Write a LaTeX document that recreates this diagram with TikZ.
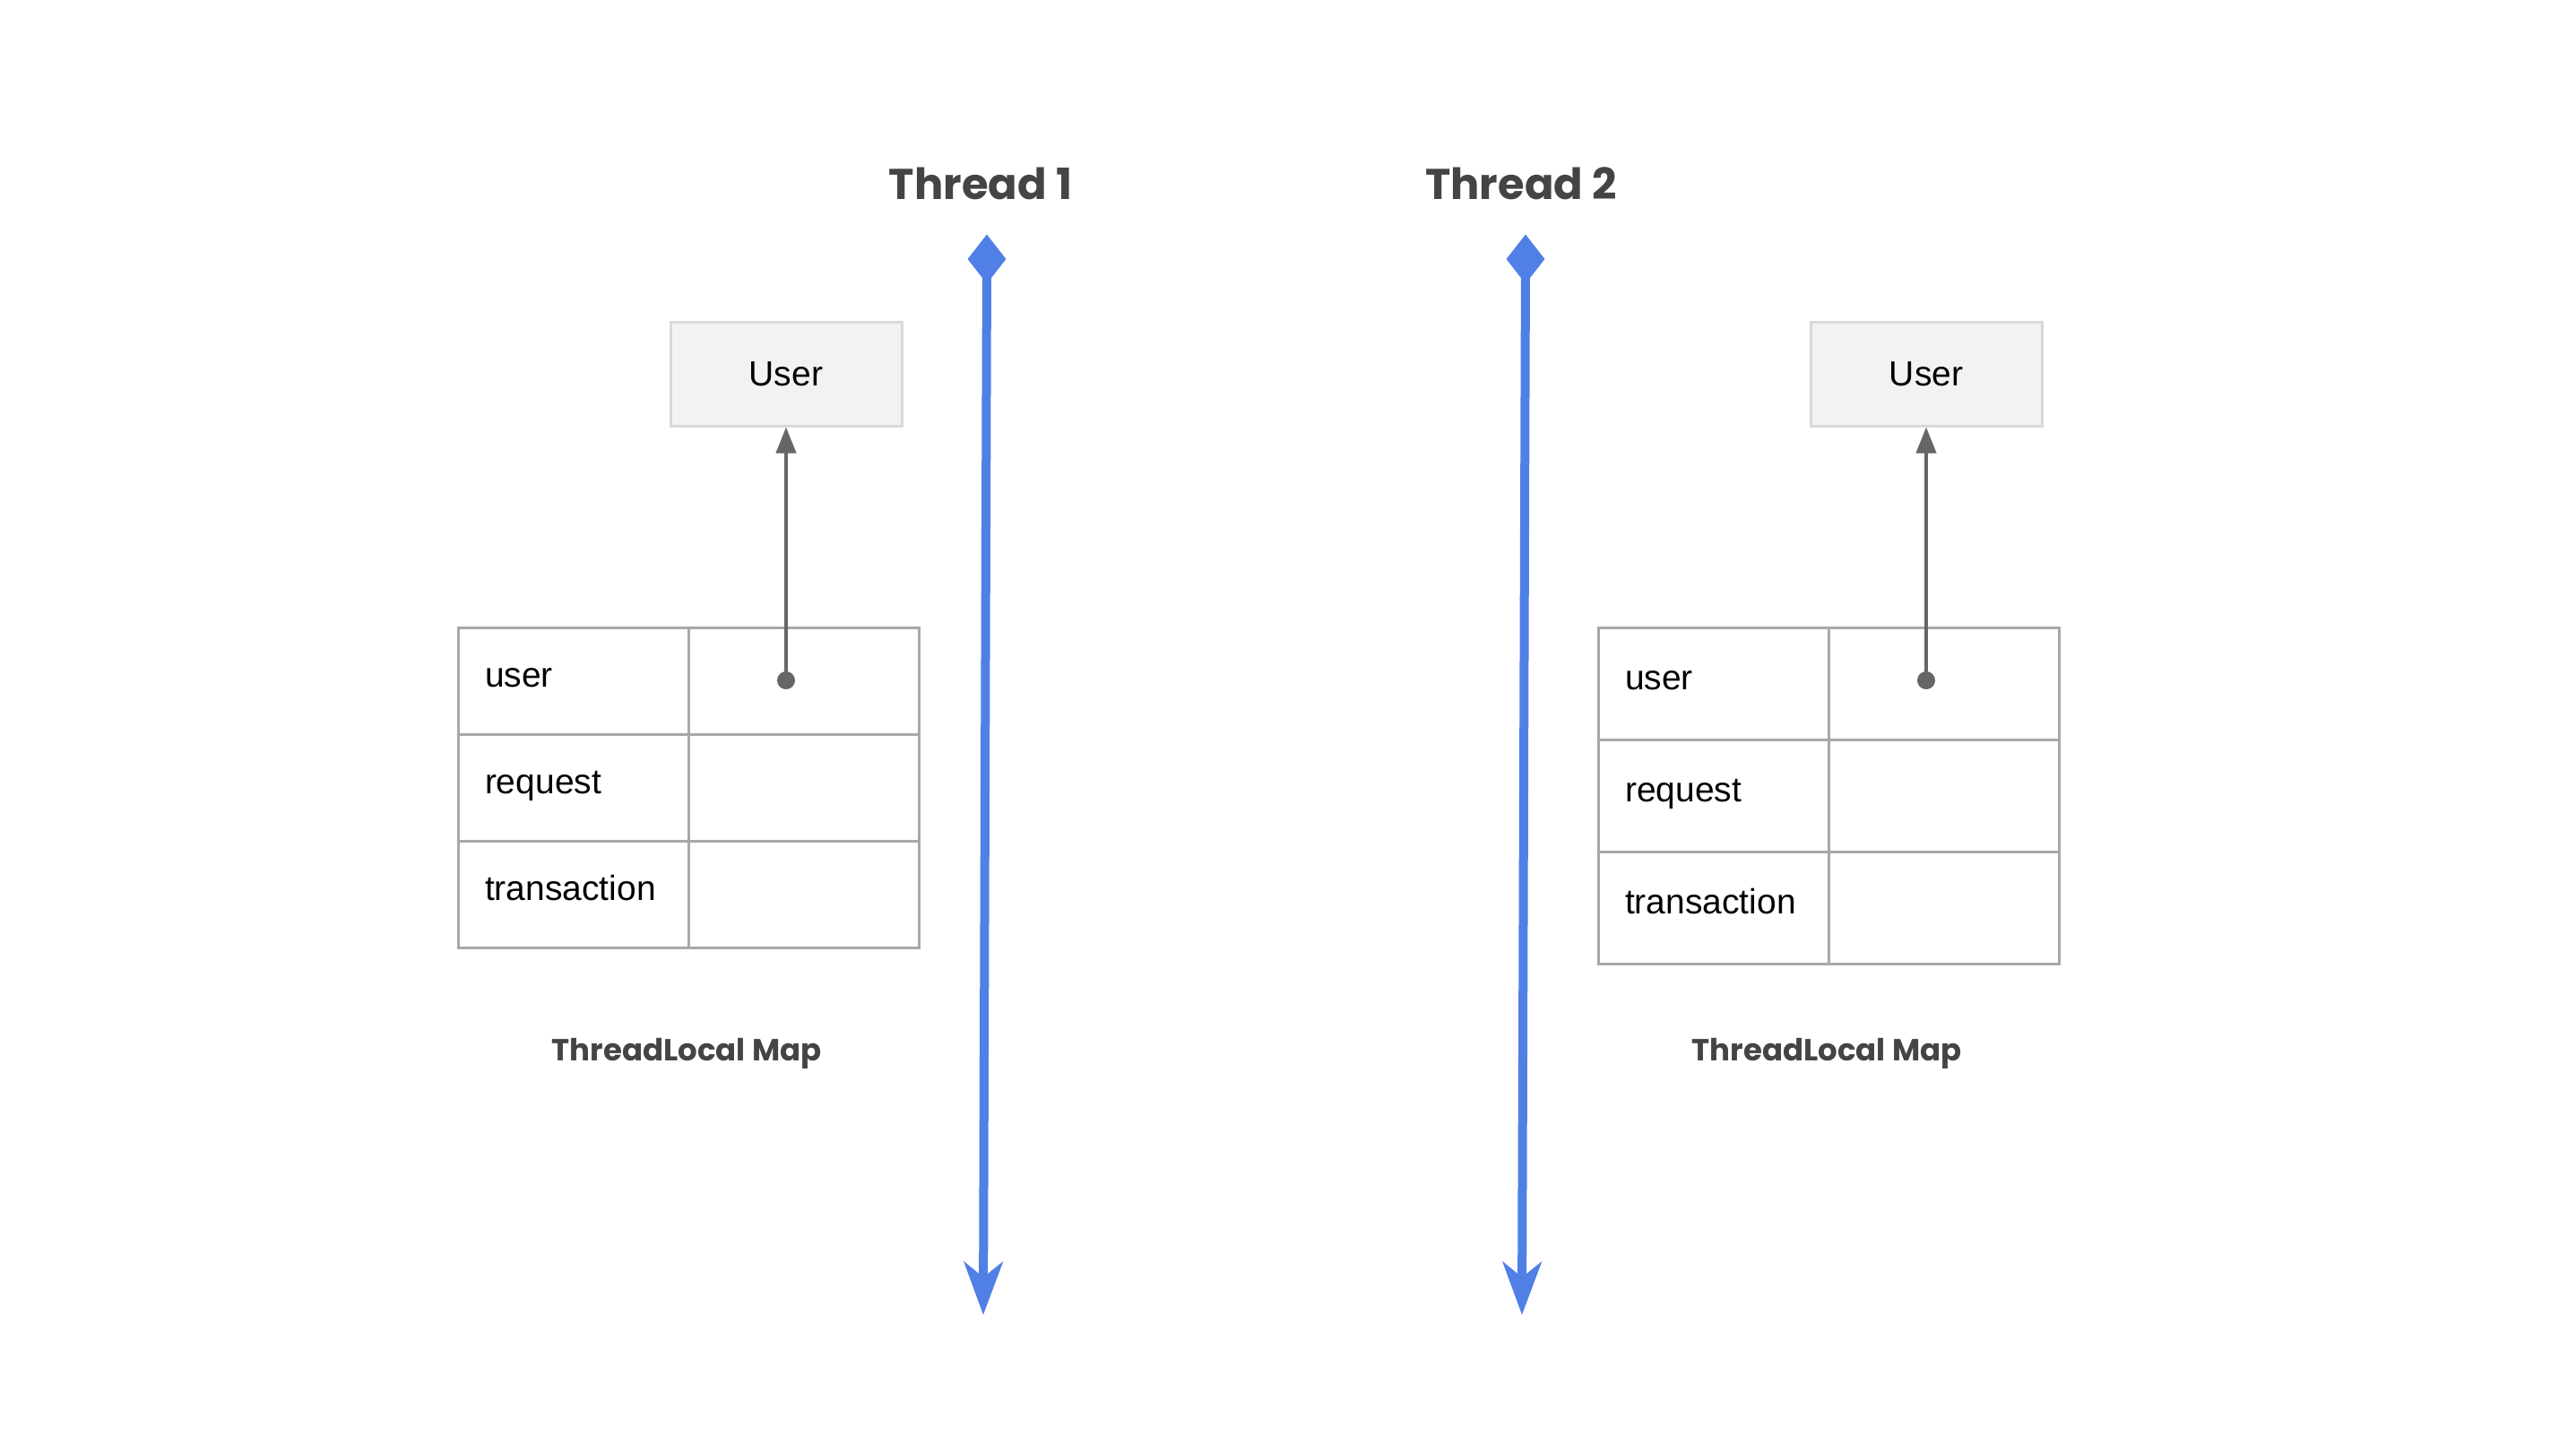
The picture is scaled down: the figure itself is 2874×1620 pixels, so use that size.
\documentclass[tikz,border=0pt]{standalone}
\usepackage{fontspec}
\setmainfont{Liberation Sans}
\newfontfamily\handfont{Poppins}
\usetikzlibrary{arrows.meta,shapes.geometric}
\definecolor{threadblue}{HTML}{5080E6}
\definecolor{tblgray}{HTML}{A8A8A8}
\definecolor{boxfill}{HTML}{F2F2F2}
\definecolor{boxline}{HTML}{D9D9D9}
\definecolor{ptrgray}{HTML}{666666}
\definecolor{titlegray}{HTML}{444444}
\begin{document}
\begin{tikzpicture}[x=1pt,y=-1pt,
 title/.style={font=\handfont\bfseries\fontsize{48}{58}\selectfont, text=titlegray, anchor=base, inner sep=0},
 maplabel/.style={font=\handfont\bfseries\fontsize{34}{40}\selectfont, text=titlegray, anchor=base, inner sep=0},
 cell/.style={draw=tblgray, line width=3pt, minimum width=257pt, inner sep=0pt, anchor=north west, outer sep=0pt},
 keycell/.style={cell, align=left, text width=197pt, inner xsep=30pt, text height=14pt, text depth=0pt, font=\fontsize{39}{46}\selectfont},
 userbox/.style={draw=boxline, fill=boxfill, line width=3pt, minimum width=258pt, minimum height=116pt, font=\fontsize{39}{46}\selectfont, inner sep=0pt},
 lifeline/.style={draw=threadblue, line width=10pt, -{Stealth[length=59pt,width=43pt,inset=17pt]}},
 headmark/.style={diamond, fill=threadblue, minimum width=43pt, minimum height=55pt, inner sep=0pt},
 ptr/.style={draw=ptrgray, line width=4pt, -{Triangle[length=29pt,width=22pt]}},
 refdot/.style={circle, fill=ptrgray, minimum size=20pt, inner sep=0pt},
]
\fill[white] (0,0) rectangle (2874,1620);
\useasboundingbox (0,0) rectangle (2874,1620);

% titles
\node[title] (t1) at (1094,222) {Thread 1};
\node[title] (t2) at (1697,222) {Thread 2};

% lifelines
\node[headmark] (h1) at (1101,289) {};
\node[headmark] (h2) at (1702,289) {};
\coordinate (e1) at (1097,1467);
\coordinate (e2) at (1698,1467);
\draw[lifeline] (h1.center) -- (e1);
\draw[lifeline] (h2.center) -- (e2);

% left table
\begin{scope}[every node/.append style={minimum height=119pt}]
\node[keycell] (k11) at (511,700) {user};
\node[keycell] (k12) at (511,819) {request};
\node[keycell] (k13) at (511,938) {transaction};
\node[cell] (v11) at (768,700) {};
\node[cell] (v12) at (768,819) {};
\node[cell] (v13) at (768,938) {};
\end{scope}

% right table
\begin{scope}[every node/.append style={minimum height=125pt}]
\node[keycell] (k21) at (1783,700) {user};
\node[keycell] (k22) at (1783,825) {request};
\node[keycell] (k23) at (1783,950) {transaction};
\node[cell] (v21) at (2040,700) {};
\node[cell] (v22) at (2040,825) {};
\node[cell] (v23) at (2040,950) {};
\end{scope}

% user objects
\node[userbox] (u1) at (877,417) {User};
\node[userbox] (u2) at (2149,417) {User};

% references
\node[refdot] (p1) at (877,759) {};
\node[refdot] (p2) at (2149,759) {};
\draw[ptr] (p1.center) -- (u1.south);
\draw[ptr] (p2.center) -- (u2.south);

% map labels
\node[maplabel] (m1) at (766,1183) {ThreadLocal Map};
\node[maplabel] (m2) at (2038,1183) {ThreadLocal Map};
\end{tikzpicture}
\end{document}
